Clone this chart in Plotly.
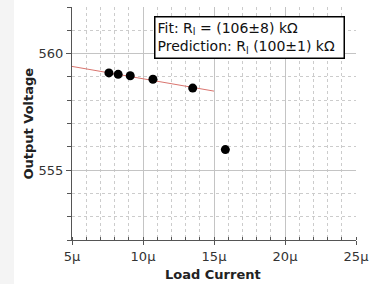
import plotly.graph_objects as go

# Data (x in microamps, y in volts)
current_uA = [7.6, 8.25, 9.1, 10.7, 13.5, 15.8]
voltage_V = [559.17, 559.11, 559.05, 558.9, 558.52, 555.88]
fit_x = [5.0, 15.0]
fit_y = [559.45, 558.39]
x_tickvals = [5, 10, 15, 20, 25]
x_ticktext = ["5\u03bc", "10\u03bc", "15\u03bc", "20\u03bc", "25\u03bc"]
y_tickvals = [555, 560]
y_ticktext = ["555", "560"]
legend_lines = ["Fit: R<sub>l</sub> = (106\u00b18) k\u03a9",
                "Prediction: R<sub>l</sub> (100\u00b11) k\u03a9"]

FONT = "DejaVu Sans"
W, H = 379, 284
L, R, T, B = 72, 23, 7, 44
pw, ph = W - L - R, H - T - B

fig = go.Figure()
fig.add_trace(go.Scatter(x=fit_x, y=fit_y, mode="lines",
                         line=dict(color="#d9756f", width=1), hoverinfo="skip"))
fig.add_trace(go.Scatter(x=current_uA, y=voltage_V, mode="markers",
                         marker=dict(color="black", size=9)))

grid_major = "#c4c4c4"
grid_minor = "#cccccc"
fig.update_xaxes(range=[5, 25], tickvals=x_tickvals, ticktext=x_ticktext,
                 automargin=False,
                 showline=True, linecolor="#555", linewidth=1,
                 ticks="outside", ticklen=4, tickcolor="#555",
                 showgrid=True, gridcolor=grid_major, gridwidth=1,
                 zeroline=False,
                 minor=dict(dtick=1, tick0=0, showgrid=True, gridcolor=grid_minor,
                            griddash="3px,3px", ticks="inside", ticklen=3, tickcolor="#555"),
                 tickfont=dict(family=FONT, size=13, color="#333"))
fig.update_yaxes(range=[552, 562], tickvals=y_tickvals, ticktext=y_ticktext,
                 automargin=False,
                 showline=True, linecolor="#555", linewidth=1,
                 ticks="outside", ticklen=5, tickcolor="#555",
                 showgrid=True, gridcolor=grid_major, gridwidth=1,
                 zeroline=False,
                 minor=dict(dtick=1, tick0=0, showgrid=True, gridcolor=grid_minor,
                            griddash="3px,3px", ticks="outside", ticklen=4, tickcolor="#555"),
                 tickfont=dict(family=FONT, size=13, color="#333"))

fig.add_shape(type="rect", xref="paper", yref="paper",
              x0=(0 - L) / pw, x1=(14 - L) / pw, y0=-B / ph, y1=1 + T / ph,
              fillcolor="#f4f4f4", line=dict(width=0), layer="below")

# axis titles
fig.add_annotation(xref="paper", yref="paper", x=(213 - L) / pw, y=-(274 - T - ph) / ph,
                   xanchor="center", yanchor="middle", showarrow=False,
                   text="<b>Load Current</b>", font=dict(family=FONT, size=13, color="#222"))
fig.add_annotation(xref="paper", yref="paper", x=(28 - L) / pw, y=0.5,
                   xanchor="center", yanchor="middle", showarrow=False, textangle=-90,
                   text="<b>Output Voltage</b>", font=dict(family=FONT, size=13, color="#222"))

fig.add_annotation(xref="paper", yref="paper",
                   x=(154 - L) / pw, y=1 - (16 - T) / ph,
                   xanchor="left", yanchor="top", showarrow=False, align="left",
                   text="<br>".join(legend_lines), width=184,
                   font=dict(family=FONT, size=14, color="#111"),
                   bgcolor="white", bordercolor="black", borderwidth=1.5, borderpad=2)

fig.update_layout(width=W, height=H, margin=dict(l=L, r=R, t=T, b=B, pad=0),
                  plot_bgcolor="white", paper_bgcolor="white", showlegend=False)

fig.write_html("out.html", config={"displayModeBar": False},
               post_script="document.body.style.margin='0px';")
